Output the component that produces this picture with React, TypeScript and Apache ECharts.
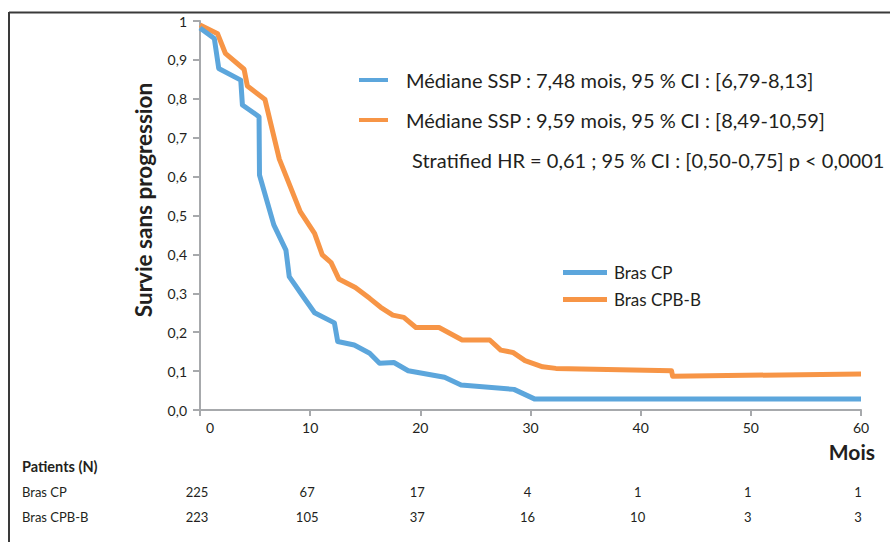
import React, { useEffect, useRef } from "react";
import * as echarts from "echarts";

const monthTicks = [0, 10, 20, 30, 40, 50, 60];
const atRiskCP = [225, 67, 17, 4, 1, 1, 1];
const atRiskCPB = [223, 105, 37, 16, 10, 3, 3];

const seriesNames = ["Bras CP", "Bras CPB-B"];
const medianTexts = [
  "Médiane SSP : 7,48 mois, 95 % CI : [6,79-8,13]",
  "Médiane SSP : 9,59 mois, 95 % CI : [8,49-10,59]",
];
const hrText = "Stratified HR = 0,61 ; 95 % CI : [0,50-0,75] p < 0,0001";

const brasCP: [number, number][] = [
  [0, 0.982], [1.3, 0.955], [1.7, 0.878], [3.7, 0.848], [3.85, 0.784],
  [5.36, 0.754], [5.4, 0.604], [6.7, 0.476], [7.8, 0.411], [8.1, 0.343],
  [9.45, 0.288], [10.4, 0.25], [12.2, 0.224], [12.5, 0.176], [14, 0.167],
  [15.4, 0.146], [16.3, 0.12], [17.6, 0.122], [18.9, 0.101], [22.2, 0.084],
  [23.7, 0.064], [28.5, 0.053], [30.4, 0.028], [60, 0.028],
];

const brasCPB: [number, number][] = [
  [0, 0.99], [1.6, 0.967], [2.3, 0.917], [4.0, 0.876], [4.3, 0.833],
  [5.9, 0.798], [7.2, 0.645], [9.1, 0.51], [10.4, 0.454], [11.1, 0.399],
  [11.9, 0.379], [12.6, 0.337], [14.1, 0.315], [15.4, 0.287], [16.4, 0.264],
  [17.5, 0.244], [18.5, 0.238], [19.6, 0.212], [21.7, 0.212], [23.8, 0.18],
  [26.3, 0.18], [27.3, 0.154], [28.4, 0.148], [29.5, 0.127], [31.1, 0.111],
  [32.3, 0.107], [42.8, 0.101], [42.9, 0.087], [60, 0.0925],
];

const BLUE = "#5ca6dc";
const ORANGE = "#f79546";
const TEXT = "#231f20";
const AXIS = "#a7a9ac";
const FONT = "Lato, 'Open Sans', sans-serif";

export default function App() {
  const ref = useRef<HTMLDivElement>(null);

  useEffect(() => {
    if (!ref.current) return;
    const chart = echarts.init(ref.current, null, { renderer: "svg" });
    chart.setOption({
      animation: false,
      grid: { left: 200, top: 21, width: 661, height: 389 },
      xAxis: {
        type: "value",
        min: 0,
        max: 60,
        interval: 10,
        axisLine: { show: true, lineStyle: { color: AXIS, width: 2 } },
        axisTick: { show: true, length: 6, lineStyle: { color: AXIS, width: 2 } },
        splitLine: { show: false },
        axisLabel: {
          color: TEXT,
          fontFamily: FONT,
          fontSize: 14,
          margin: 10,
          formatter: (v: number) => (v === 0 ? "{z|0}" : String(v)),
          rich: { z: { padding: [0, 0, 0, 20], fontSize: 14, fontFamily: FONT, color: TEXT } },
        },
      },
      yAxis: {
        type: "value",
        min: 0,
        max: 1,
        interval: 0.1,
        axisLine: { show: true, lineStyle: { color: AXIS, width: 2 } },
        axisTick: { show: true, length: 7, lineStyle: { color: AXIS, width: 2 } },
        splitLine: { show: false },
        axisLabel: {
          color: TEXT,
          fontFamily: FONT,
          fontSize: 14,
          margin: 13,
          formatter: (v: number) => (v === 1 ? "1" : v.toFixed(1).replace(".", ",")),
        },
      },
      series: [
        {
          name: seriesNames[0],
          type: "line",
          data: brasCP,
          showSymbol: false,
          clip: false,
          lineStyle: { color: BLUE, width: 5, join: "round" },
          itemStyle: { color: BLUE },
          z: 3,
        },
        {
          name: seriesNames[1],
          type: "line",
          data: brasCPB,
          showSymbol: false,
          clip: false,
          lineStyle: { color: ORANGE, width: 5, join: "round" },
          itemStyle: { color: ORANGE },
          z: 2,
        },
      ],
    });

    const rowY = [492, 517];
    const table: any[] = [];
    monthTicks.forEach((m, i) => {
      const px = chart.convertToPixel({ xAxisIndex: 0 }, m) as number;
      [atRiskCP[i], atRiskCPB[i]].forEach((n, r) => {
        table.push({
          type: "text",
          x: px - 3,
          y: rowY[r],
          style: {
            text: String(n),
            font: `13px ${FONT}`,
            fill: TEXT,
            align: "center",
            verticalAlign: "middle",
          },
        });
      });
    });

    const graphic: any[] = [
      // frame
      { type: "line", shape: { x1: 9, y1: 12.5, x2: 890, y2: 12.5 }, style: { stroke: "#3a3a3a", lineWidth: 2 } },
      { type: "line", shape: { x1: 9, y1: 12, x2: 9, y2: 542 }, style: { stroke: "#3a3a3a", lineWidth: 2 } },
      // y title
      {
        type: "text",
        x: 143,
        y: 200,
        rotation: Math.PI / 2,
        style: {
          text: "Survie sans progression",
          font: `bold 22.5px ${FONT}`,
          fill: TEXT,
          align: "center",
          verticalAlign: "middle",
        },
      },
      // Mois
      {
        type: "text",
        x: 875,
        y: 451,
        style: { text: "Mois", font: `bold 21px ${FONT}`, fill: TEXT, align: "right", verticalAlign: "middle" },
      },
      // median legend
      { type: "line", shape: { x1: 359, y1: 80, x2: 388, y2: 80 }, style: { stroke: BLUE, lineWidth: 4 } },
      { type: "line", shape: { x1: 359, y1: 120, x2: 388, y2: 120 }, style: { stroke: ORANGE, lineWidth: 4 } },
      {
        type: "text", x: 406, y: 80,
        style: { text: medianTexts[0], font: `20px ${FONT}`, fill: TEXT, verticalAlign: "middle" },
      },
      {
        type: "text", x: 406, y: 120,
        style: { text: medianTexts[1], font: `20px ${FONT}`, fill: TEXT, verticalAlign: "middle" },
      },
      {
        type: "text", x: 412, y: 160,
        style: { text: hrText, font: `20px ${FONT}`, fill: TEXT, verticalAlign: "middle" },
      },
      // series legend
      { type: "line", shape: { x1: 563, y1: 272.5, x2: 607, y2: 272.5 }, style: { stroke: BLUE, lineWidth: 5 } },
      { type: "line", shape: { x1: 563, y1: 299.5, x2: 607, y2: 299.5 }, style: { stroke: ORANGE, lineWidth: 5 } },
      {
        type: "text", x: 614, y: 272,
        style: { text: seriesNames[0], font: `17px ${FONT}`, fill: TEXT, verticalAlign: "middle" },
      },
      {
        type: "text", x: 614, y: 299,
        style: { text: seriesNames[1], font: `17px ${FONT}`, fill: TEXT, verticalAlign: "middle" },
      },
      // table headers
      {
        type: "text", x: 22, y: 466,
        style: { text: "Patients (N)", font: `bold 14.5px ${FONT}`, fill: TEXT, verticalAlign: "middle" },
      },
      {
        type: "text", x: 22, y: rowY[0],
        style: { text: seriesNames[0], font: `13px ${FONT}`, fill: TEXT, verticalAlign: "middle" },
      },
      {
        type: "text", x: 22, y: rowY[1],
        style: { text: seriesNames[1], font: `13px ${FONT}`, fill: TEXT, verticalAlign: "middle" },
      },
      ...table,
    ];
    chart.setOption({ graphic });

    return () => chart.dispose();
  }, []);

  return (
    <div
      ref={ref}
      style={{ position: "absolute", left: 0, top: 0, width: 890, height: 542, background: "#fff" }}
    />
  );
}
